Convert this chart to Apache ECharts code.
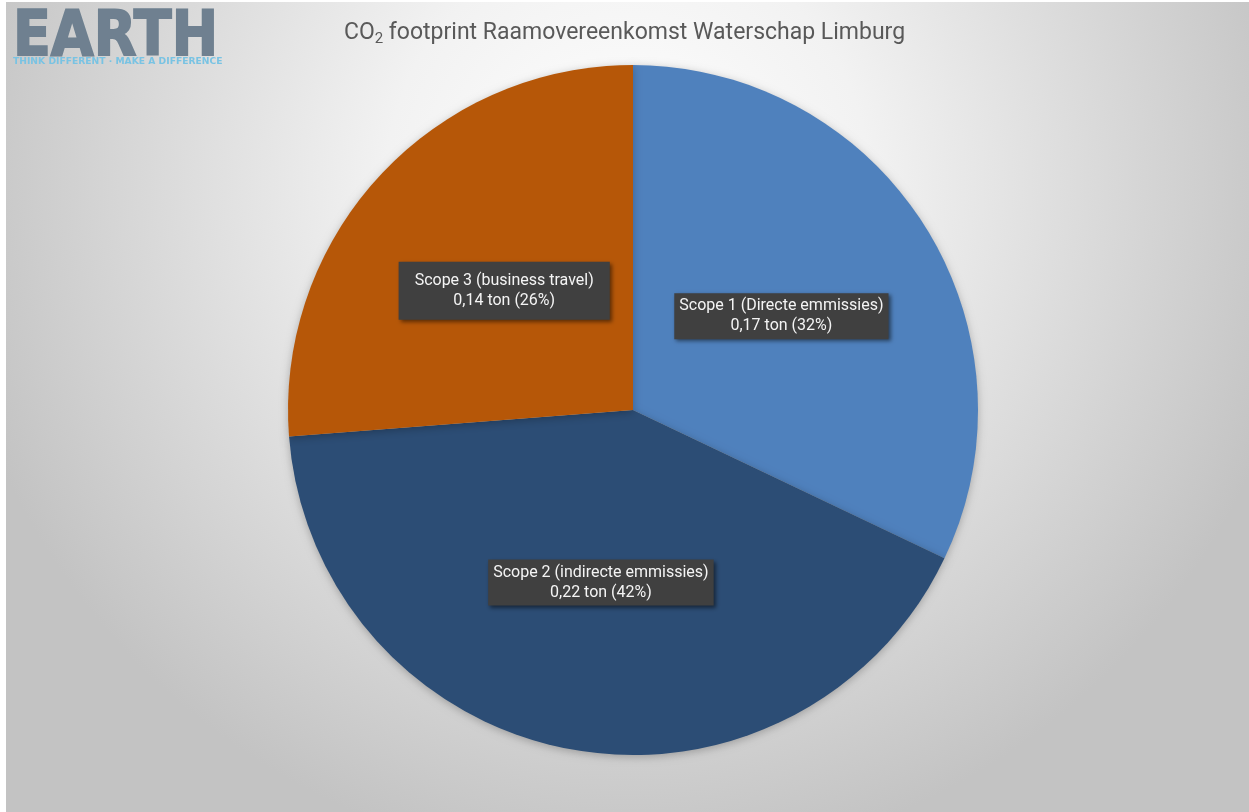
<!DOCTYPE html>
<html>
<head>
<meta charset="utf-8">
<script src="https://cdn.jsdelivr.net/npm/echarts@6/dist/echarts.min.js"></script>
<style>html,body{margin:0;padding:0;background:#fff}#c{width:1249px;height:812px}</style>
</head>
<body>
<div id="c"></div>
<script>
const categories = ['Scope 1 (Directe emmissies)', 'Scope 2 (indirecte emmissies)', 'Scope 3 (business travel)'];
const values = [0.170, 0.221, 0.139];
const colors = ['#4f81bd', '#2c4d75', '#b65708'];
const titleMain = 'CO';
const titleSub = '2';
const titleRest = ' footprint Raamovereenkomst Waterschap Limburg';

const chart = echarts.init(document.getElementById('c'));
const fmt = v => v.toFixed(2).replace('.', ',');
chart.setOption({
  backgroundColor: '#ffffff',
  animation: false,
  graphic: [
    {
      type: 'rect', z: -10, silent: true,
      shape: { x: 6, y: 2, width: 1243, height: 810 },
      style: {
        fill: new echarts.graphic.RadialGradient(0.5, 0.22, 0.85, [
          { offset: 0, color: '#ffffff' },
          { offset: 0.35, color: '#f2f2f2' },
          { offset: 1, color: '#c3c3c3' }
        ])
      }
    },
    {
      type: 'text', left: 12, top: 6, z: 10, scaleX: 0.88,
      style: { text: 'EARTH', font: 'bold 63px "DejaVu Sans"', fill: '#6f8090', stroke: '#6f8090', lineWidth: 2 }
    },
    {
      type: 'text', left: 13, top: 57, z: 10,
      style: { text: 'THINK DIFFERENT · MAKE A DIFFERENCE', font: 'bold 9.2px "DejaVu Sans"', fill: '#79c3e3' }
    },
    {
      type: 'text', left: 'center', top: 22, z: 10,
      style: {
        text: '{a|' + titleMain + '}{s|' + titleSub + '}{a|' + titleRest + '}',
        rich: {
          a: { fontFamily: 'Roboto', fontSize: 23, fill: '#595959', color: '#595959' },
          s: { fontFamily: 'Roboto', fontSize: 15, fill: '#595959', color: '#595959', padding: [12, 0, 0, 0] }
        }
      }
    }
  ],
  series: [{
    type: 'pie',
    center: [633, 410],
    radius: 345,
    startAngle: 90,
    clockwise: true,
    silent: true,
    data: categories.map((n, i) => ({
      name: n, value: values[i],
      itemStyle: { color: colors[i] },
      label: i === 2 ? { padding: [9, 16] } : {}
    })),
    itemStyle: { shadowBlur: 8, shadowColor: 'rgba(0,0,0,0.25)', shadowOffsetY: 2 },
    label: {
      show: true,
      position: 'inside',
      formatter: p => p.name + '\n' + fmt(p.value) + ' ton (' + Math.round(p.percent) + '%)',
      color: '#f4f4f4',
      fontFamily: 'Roboto',
      fontSize: 16,
      lineHeight: 20,
      align: 'center',
      backgroundColor: '#404040',
      padding: [3, 5],
      shadowBlur: 4,
      shadowColor: 'rgba(0,0,0,0.5)',
      shadowOffsetX: 2,
      shadowOffsetY: 2
    },
    labelLine: { show: false }
  }]
});
</script>
</body>
</html>
